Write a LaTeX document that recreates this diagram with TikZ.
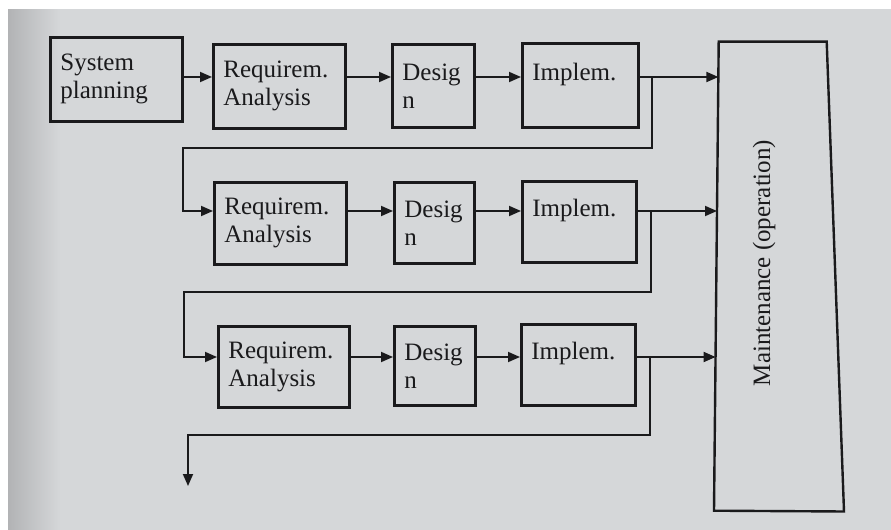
\documentclass[tikz,border=0pt]{standalone}
\usepackage{fontspec}
\setmainfont{Liberation Serif}
\usetikzlibrary{arrows.meta}
\definecolor{paper}{RGB}{213,215,217}
\definecolor{paperdark}{RGB}{178,179,181}
\definecolor{ink}{RGB}{26,26,28}
\tikzset{
  stage/.style={draw=ink, line width=2.8bp, rectangle, anchor=north west,
    inner xsep=10bp, inner ysep=0pt, align=left, text=ink,
    font=\fontsize{25bp}{28bp}\selectfont},
  flow/.style={draw=ink, line width=1.8bp, -{Triangle[length=12bp,width=10bp]}},
}
\begin{document}
\begin{tikzpicture}[x=1bp,y=-1bp]
  \useasboundingbox (0,0) rectangle (891,530);
  % page
  \fill[paper] (0,0) rectangle (891,530);
  \shade[left color=paperdark, right color=paper] (8,9) rectangle (60,530);
  \fill[white] (0,0) rectangle (891,9);
  \fill[white] (0,0) rectangle (8,530);

  % first cycle
  \node[stage, minimum width=132bp, minimum height=84bp, text width=112bp] (sp) at (49,36) {System\\planning};
  \node[stage, minimum width=132bp, minimum height=84bp, text width=112bp] (r1) at (212,43) {Requirem.\\Analysis};
  \node[stage, minimum width=82bp, minimum height=83bp, text width=62bp] (d1) at (391,43) {Desig\\n};
  \node[stage, minimum width=116bp, minimum height=84bp, text width=96bp] (i1) at (521,42) {Implem.\\\mbox{}};

  % second cycle
  \node[stage, minimum width=132bp, minimum height=82bp, text width=112bp] (r2) at (213,181) {Requirem.\\Analysis};
  \node[stage, minimum width=80bp, minimum height=81bp, text width=60bp] (d2) at (393,181) {Desig\\n};
  \node[stage, minimum width=114bp, minimum height=81bp, text width=94bp] (i2) at (521,180) {Implem.\\\mbox{}};

  % third cycle
  \node[stage, minimum width=131bp, minimum height=81bp, text width=111bp] (r3) at (217,325) {Requirem.\\Analysis};
  \node[stage, minimum width=81bp, minimum height=79bp, text width=61bp] (d3) at (393,325) {Desig\\n};
  \node[stage, minimum width=114bp, minimum height=81bp, text width=94bp] (i3) at (520,323) {Implem.\\\mbox{}};

  % maintenance column
  \coordinate (mtl) at (718.7,41.7);
  \coordinate (mtr) at (826.7,41.7);
  \coordinate (mbr) at (844,511.5);
  \coordinate (mbl) at (714,510.7);
  \draw[ink, line width=2.4bp, line join=miter] (mtl) -- (mtr) -- (mbr) -- (mbl) -- cycle;
  \node[rotate=90, text=ink, font=\fontsize{25bp}{28bp}\selectfont] (mt) at (764,263) {Maintenance (operation)};
  \coordinate (m1) at (718.4,77);
  \coordinate (m2) at (717.0,211);
  \coordinate (m3) at (715.6,357);

  % row levels and return paths
  \coordinate (row1) at (0,77);
  \coordinate (row2) at (0,211);
  \coordinate (row3) at (0,357);
  \coordinate (b1) at (652,148);
  \coordinate (c1) at (183,148);
  \coordinate (b2) at (651,292);
  \coordinate (c2) at (184,292);
  \coordinate (b3) at (650,435);
  \coordinate (c3) at (188,435);
  \coordinate (next) at (188,486);

  % forward flow
  \draw[flow] (sp.east |- row1) -- (r1.west |- row1);
  \draw[flow] (r1.east |- row1) -- (d1.west |- row1);
  \draw[flow] (d1.east |- row1) -- (i1.west |- row1);
  \draw[flow] (i1.east |- row1) -- (m1);

  \draw[flow] (r2.east |- row2) -- (d2.west |- row2);
  \draw[flow] (d2.east |- row2) -- (i2.west |- row2);
  \draw[flow] (i2.east |- row2) -- (m2);

  \draw[flow] (r3.east |- row3) -- (d3.west |- row3);
  \draw[flow] (d3.east |- row3) -- (i3.west |- row3);
  \draw[flow] (i3.east |- row3) -- (m3);

  % iteration loops
  \draw[flow] (b1 |- row1) -- (b1) -- (c1) -- (c1 |- row2) -- (r2.west |- row2);
  \draw[flow] (b2 |- row2) -- (b2) -- (c2) -- (c2 |- row3) -- (r3.west |- row3);
  \draw[flow] (b3 |- row3) -- (b3) -- (c3) -- (next);
\end{tikzpicture}
\end{document}
